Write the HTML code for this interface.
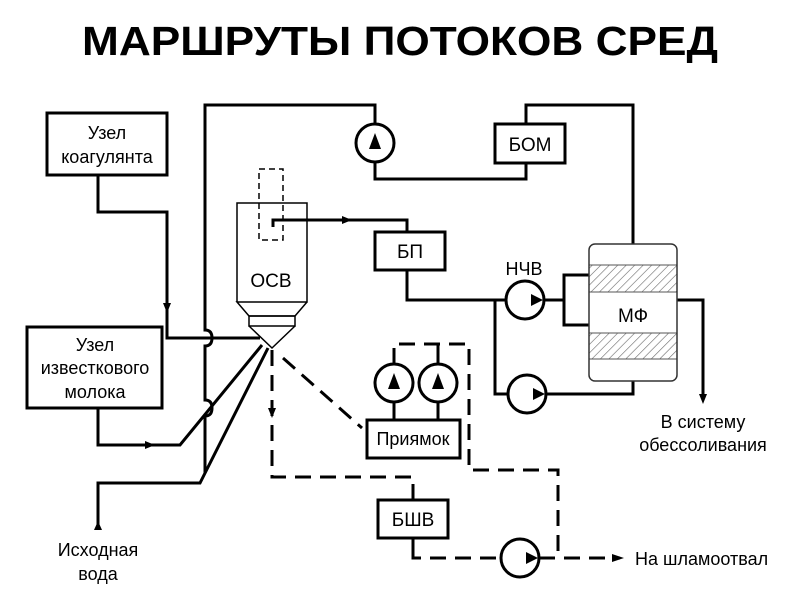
<!DOCTYPE html>
<html><head><meta charset="utf-8"><style>
body{margin:0;background:#fff}
svg{display:block}
text{font-family:"Liberation Sans","DejaVu Sans",sans-serif;fill:#000}
</style></head><body>
<svg width="800" height="600" viewBox="0 0 800 600" xmlns="http://www.w3.org/2000/svg">
<text x="400" y="55" font-size="41" font-weight="bold" text-anchor="middle" textLength="636" lengthAdjust="spacingAndGlyphs">МАРШРУТЫ ПОТОКОВ СРЕД</text>
<g fill="none" stroke="#000" stroke-width="3">
<rect x="47" y="113" width="120" height="62"/>
<rect x="27" y="327" width="135" height="81"/>
<rect x="495" y="124" width="70" height="39"/>
<rect x="375" y="232" width="70" height="38"/>
<rect x="367" y="420" width="93" height="38"/>
<rect x="378" y="500" width="70" height="38"/>
<polyline points="98,175 98,212 167,212 167,338 260,338"/>
<polyline points="98,408 98,445 180,445 262,345"/>
<polyline points="98,530 98,483 200,483 268,348"/>
<path d="M375,124 L375,105 L205,105 L205,330 Q212,330 212,338 Q212,346 205,346 L205,400 Q212,400 212,408 Q212,416 205,416 L205,473"/>
<polyline points="375,162 375,179 526,179 526,163"/>
<polyline points="526,124 526,105 633,105 633,244"/>
<polyline points="273,227 273,220 407,220 407,232"/>
<polyline points="407,270 407,300 506,300"/>
<polyline points="495,300 495,394 508,394"/>
<polyline points="544,300 564,300"/>
<path d="M589,275 L564,275 L564,325 L589,325"/>
<polyline points="546,394 633,394 633,381"/>
<polyline points="677,300 703,300 703,395"/>
<line x1="394" y1="402" x2="394" y2="420"/>
<line x1="438" y1="402" x2="438" y2="420"/>
<line x1="413" y1="538" x2="413" y2="550"/>
<line x1="438" y1="364" x2="438" y2="344"/>
<circle cx="375" cy="143" r="19"/>
<circle cx="525" cy="300" r="19"/>
<circle cx="527" cy="394" r="19"/>
<circle cx="394" cy="383" r="19"/>
<circle cx="438" cy="383" r="19"/>
<circle cx="520" cy="558" r="19"/>
</g>
<g fill="none" stroke="#000" stroke-width="3" stroke-dasharray="16,9">
<polyline points="394,364 394,344 469,344 469,470 558,470 558,558"/>
<polyline points="272,350 272,477 413,477 413,500"/>
<polyline points="413,550 413,558 501,558"/>
<polyline points="539,558 620,558"/>
<line x1="283" y1="358" x2="362" y2="428"/>
</g>
<g fill="none" stroke="#000" stroke-width="1.5">
<polyline points="237,302 237,203 307,203 307,302 237,302 249,316 295,316 307,302"/>
<rect x="249" y="316" width="46" height="10"/>
<polyline points="249,326 272,348 295,326"/>
<rect x="259" y="169" width="24" height="71" stroke-dasharray="6,4"/>
</g>
<text x="271" y="287" font-size="19" text-anchor="middle">ОСВ</text>
<defs><pattern id="h" width="6" height="6" patternUnits="userSpaceOnUse" patternTransform="rotate(45)"><line x1="0" y1="0" x2="0" y2="6" stroke="#666" stroke-width="1.2"/></pattern></defs>
<rect x="589" y="265" width="88" height="27" fill="url(#h)" stroke="#555" stroke-width="1"/>
<rect x="589" y="333" width="88" height="26" fill="url(#h)" stroke="#555" stroke-width="1"/>
<rect x="589" y="244" width="88" height="137" rx="6" fill="none" stroke="#333" stroke-width="1.5"/>
<text x="633" y="322" font-size="19" text-anchor="middle">МФ</text>
<g fill="#000">
<polygon points="369,149 381,149 375,133"/>
<polygon points="388,389 400,389 394,373"/>
<polygon points="432,389 444,389 438,373"/>
<polygon points="531,294 531,306 543,300"/>
<polygon points="533,388 533,400 545,394"/>
<polygon points="526,552 526,564 538,558"/>
<polygon points="163,303 171,303 167,313"/>
<polygon points="145,441 145,449 155,445"/>
<polygon points="94,530 102,530 98,521"/>
<polygon points="342,216 342,224 352,220"/>
<polygon points="268,408 276,408 272,418"/>
<polygon points="699,394 707,394 703,404"/>
<polygon points="612,554 612,562 624,558"/>
</g>
<g font-size="18">
<text x="107" y="139" text-anchor="middle">Узел</text>
<text x="107" y="163" text-anchor="middle">коагулянта</text>
<text x="95" y="351" text-anchor="middle">Узел</text>
<text x="95" y="374" text-anchor="middle">известкового</text>
<text x="95" y="398" text-anchor="middle">молока</text>
<text x="530" y="151" text-anchor="middle" font-size="19">БОМ</text>
<text x="410" y="258" text-anchor="middle" font-size="19">БП</text>
<text x="413" y="445" text-anchor="middle">Приямок</text>
<text x="413" y="526" text-anchor="middle" font-size="19">БШВ</text>
<text x="524" y="275" text-anchor="middle">НЧВ</text>
<text x="703" y="428" text-anchor="middle">В систему</text>
<text x="703" y="451" text-anchor="middle">обессоливания</text>
<text x="98" y="556" text-anchor="middle">Исходная</text>
<text x="98" y="580" text-anchor="middle">вода</text>
<text x="635" y="565">На шламоотвал</text>
</g>
</svg>
</body></html>
